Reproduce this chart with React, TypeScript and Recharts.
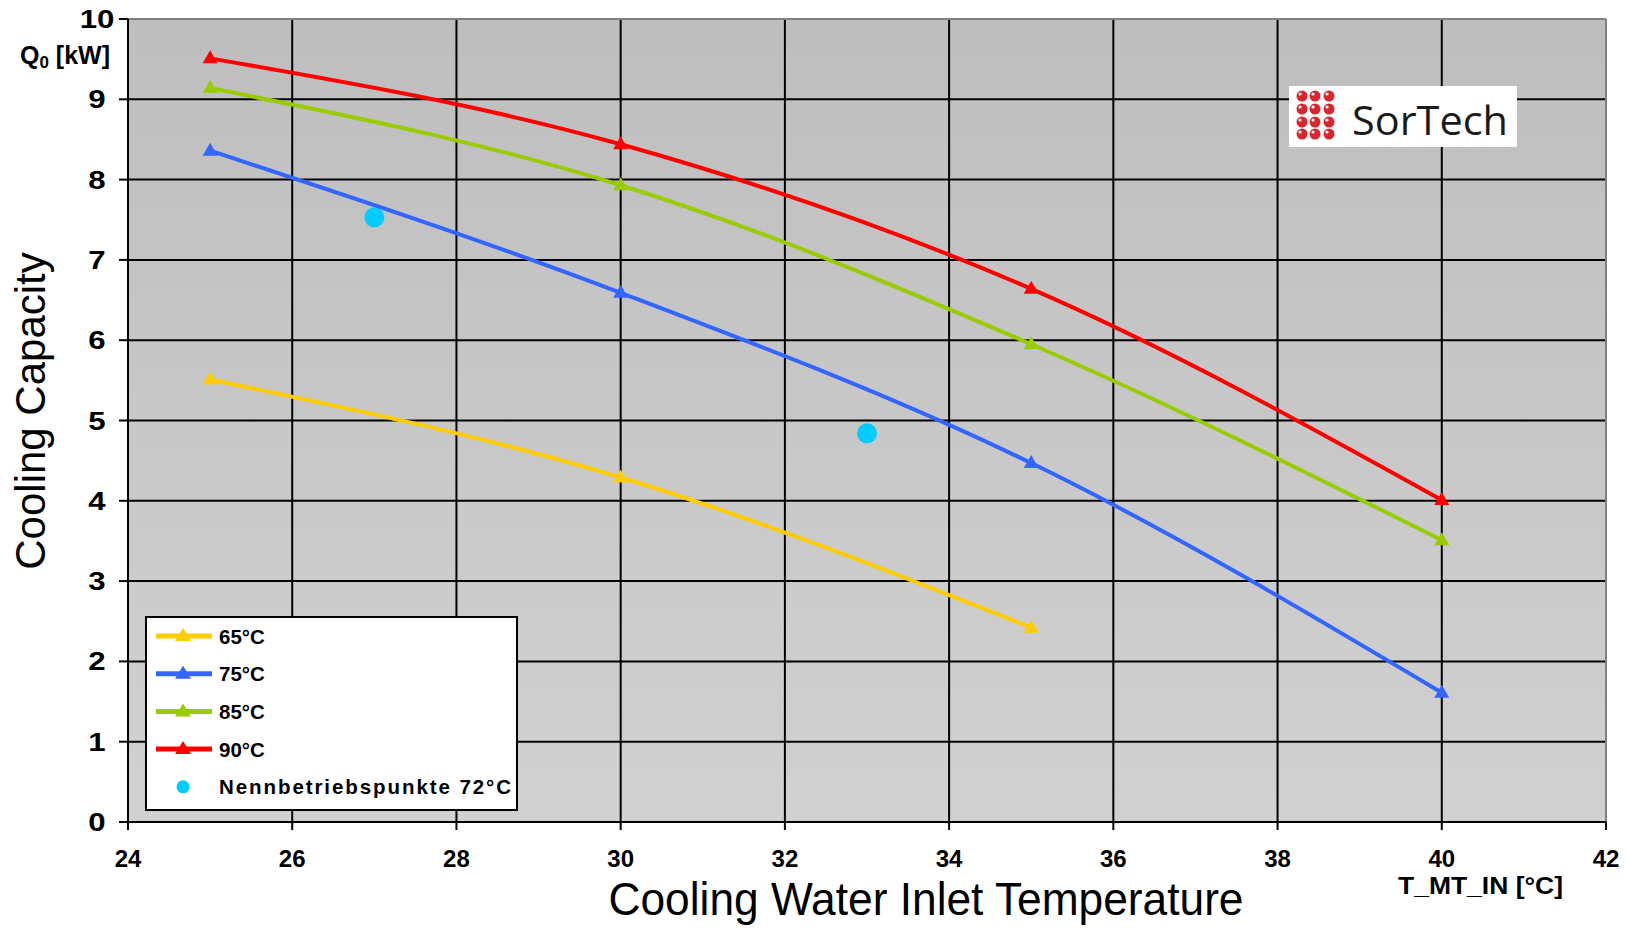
import React from 'react';
import { ComposedChart, Line, Scatter, XAxis, YAxis, CartesianGrid, Legend, ReferenceLine } from 'recharts';

const FONT = '"Liberation Sans", Arial, Helvetica, sans-serif';

// ---- data ----
const inletTemps = [25, 30, 35, 40];
const cap65 = [5.51, 4.29, 2.42];
const cap75 = [8.36, 6.59, 4.47, 1.61];
const cap85 = [9.14, 7.93, 5.95, 3.51];
const cap90 = [9.51, 8.44, 6.64, 4.01];
const ratedTemps = [27, 33];
const ratedCaps = [7.53, 4.84];
const xTicks = [24, 26, 28, 30, 32, 34, 36, 38, 40, 42];
const yTicks = [0, 1, 2, 3, 4, 5, 6, 7, 8, 9, 10];

const seriesNames = ['65°C', '75°C', '85°C', '90°C'];
const seriesColors = ['#FFCC00', '#3366FF', '#99CC00', '#FF0000'];
const seriesValues = [cap65, cap75, cap85, cap90];
const ratedName = 'Nennbetriebspunkte 72°C';
const ratedColor = '#00CCFF';

const toRows = (xs: number[], ys: number[]) => ys.map((q, i) => ({ t: xs[i], q }));
const ratedRows = toRows(ratedTemps, ratedCaps);

const Triangle = (props: any) => {
  const { cx, cy, fill } = props;
  if (cx == null || cy == null) return null;
  return <polygon points={`${cx},${cy - 8} ${cx - 7.5},${cy + 5} ${cx + 7.5},${cy + 5}`} fill={fill} />;
};

const XTick = (props: any) => {
  const { x, y, payload } = props;
  return (
    <text x={x} y={y + 35} textAnchor="middle" fontFamily={FONT} fontWeight="bold" fontSize={24} fill="#000">
      {payload.value}
    </text>
  );
};

const YTick = (props: any) => {
  const { x, y, payload } = props;
  return (
    <g transform={`translate(${x - 20},${y})`}>
      <text transform="scale(1.2,1)" x={0} y={9} textAnchor="middle" fontFamily={FONT} fontWeight="bold" fontSize={26} fill="#000">
        {payload.value}
      </text>
    </g>
  );
};

const renderLegend = (props: any) => {
  const payload = props.payload || [];
  return (
    <svg width={374} height={196} style={{ display: 'block' }}>
      <rect x={1} y={1} width={371} height={193} fill="#fff" stroke="#000" strokeWidth={2} />
      {payload.map((entry: any, i: number) => {
        const cy = 20 + i * 37.7;
        const isDot = entry.type === 'circle';
        return (
          <g key={`leg-${i}`}>
            {isDot ? (
              <circle cx={38} cy={cy} r={6.5} fill={entry.color} />
            ) : (
              <g>
                <line x1={11} x2={67} y1={cy} y2={cy} stroke={entry.color} strokeWidth={5} />
                <polygon points={`38,${cy - 8} 30,${cy + 5} 46,${cy + 5}`} fill={entry.color} />
              </g>
            )}
            <text
              x={74}
              y={cy + 7.5}
              fontFamily={FONT}
              fontWeight="bold"
              fontSize={20.5}
              fill="#000"
              {...(isDot ? { textLength: 292, lengthAdjust: 'spacing' } : {})}
            >
              {entry.value}
            </text>
          </g>
        );
      })}
    </svg>
  );
};

const logoDotX = [13, 26, 40];
const logoDotY = [10, 23, 36, 48];

export default function App() {
  return (
    <div style={{ position: 'absolute', left: 0, top: 0, width: 1629, height: 928, background: '#fff', overflow: 'hidden' }}>
      <ComposedChart width={1629} height={928} margin={{ top: 19, right: 23, bottom: 0, left: 0 }}>
        <defs>
          <linearGradient id="plotBg" x1="0" y1="0" x2="0" y2="1">
            <stop offset="0%" stopColor="#BEBEBE" />
            <stop offset="100%" stopColor="#D1D1D1" />
          </linearGradient>
        </defs>
        <CartesianGrid stroke="#000" strokeWidth={2} fill="url(#plotBg)" fillOpacity={1} />
        <XAxis
          dataKey="t"
          type="number"
          domain={[24, 42]}
          ticks={xTicks}
          height={106}
          axisLine={{ stroke: '#000', strokeWidth: 2 }}
          tickLine={{ stroke: '#000', strokeWidth: 2 }}
          tickSize={8}
          tick={<XTick />}
          interval={0}
          allowDuplicatedCategory={false}
        />
        <YAxis
          type="number"
          domain={[0, 10]}
          ticks={yTicks}
          width={128}
          axisLine={{ stroke: '#000', strokeWidth: 2 }}
          tickLine={{ stroke: '#000', strokeWidth: 2 }}
          tickSize={9}
          tick={<YTick />}
          interval={0}
        />
        <ReferenceLine y={10} stroke="#808080" strokeWidth={2} />
        <ReferenceLine x={42} stroke="#808080" strokeWidth={2} />
        {seriesValues.map((vals, i) => (
          <Line
            key={seriesNames[i]}
            name={seriesNames[i]}
            data={toRows(inletTemps, vals)}
            dataKey="q"
            type="monotone"
            stroke={seriesColors[i]}
            strokeWidth={4}
            legendType="line"
            dot={(p: any) => {
              const { key, ...rest } = p;
              return <Triangle key={key ?? `${i}-${p.index}`} {...rest} fill={seriesColors[i]} />;
            }}
            activeDot={false}
            isAnimationActive={false}
          />
        ))}
        <Scatter
          name={ratedName}
          data={ratedRows}
          dataKey="q"
          fill={ratedColor}
          legendType="circle"
          shape={(p: any) => <circle cx={p.cx} cy={p.cy} r={10} fill={ratedColor} />}
          isAnimationActive={false}
        />
        <Legend
          layout="vertical"
          verticalAlign="middle"
          align="center"
          content={renderLegend}
          wrapperStyle={{ position: 'absolute', left: 145, top: 616, width: 374, height: 196 }}
        />
      </ComposedChart>
      <svg
        width={1629}
        height={928}
        style={{ position: 'absolute', left: 0, top: 0, pointerEvents: 'none' }}
      >
        <text x={20} y={64} fontFamily={FONT} fontWeight="bold" fontSize={25} fill="#000">
          Q<tspan fontSize={17} dy={4}>0</tspan>
          <tspan dy={-4}> [kW]</tspan>
        </text>
        <text transform="translate(45,411) rotate(-90)" textAnchor="middle" fontFamily={FONT} fontSize={42} fill="#000">
          Cooling Capacity
        </text>
        <text x={926} y={915} textAnchor="middle" fontFamily={FONT} fontSize={46} fill="#000" textLength={635} lengthAdjust="spacingAndGlyphs">
          Cooling Water Inlet Temperature
        </text>
        <text x={1398} y={894} fontFamily={FONT} fontWeight="bold" fontSize={24} fill="#000" textLength={165} lengthAdjust="spacingAndGlyphs">
          T_MT_IN [°C]
        </text>
        <g transform="translate(1289,86)">
          <rect x={0} y={0} width={228} height={61} fill="#fff" />
          {logoDotY.map((dy) =>
            logoDotX.map((dx) => (
              <g key={`d-${dx}-${dy}`}>
                <circle cx={dx} cy={dy} r={5.5} fill="#D7262E" />
                <circle cx={dx - 2} cy={dy - 2} r={1.6} fill="#fff" />
              </g>
            ))
          )}
          <text x={63} y={49} fontFamily='"Open Sans", "Liberation Sans", sans-serif' fontSize={40} fill="#1a1a1a" textLength={156} lengthAdjust="spacingAndGlyphs">
            SorTech
          </text>
        </g>
      </svg>
    </div>
  );
}
